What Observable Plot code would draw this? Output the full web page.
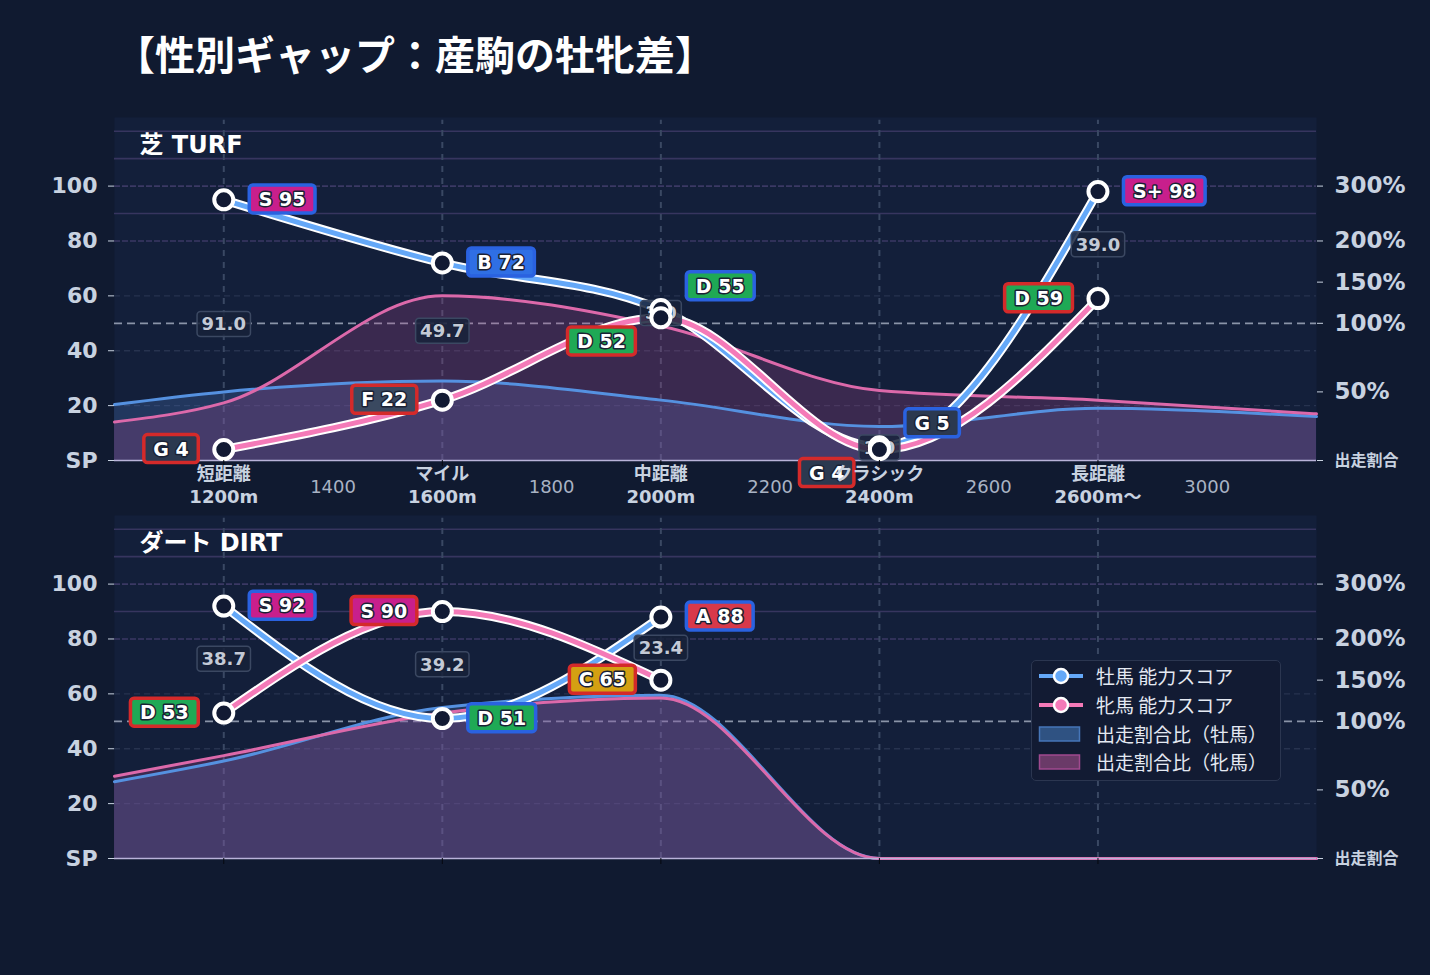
<!DOCTYPE html>
<html lang="ja">
<head>
<meta charset="utf-8">
<script src="https://cdn.jsdelivr.net/npm/d3@7"></script>
<script src="https://cdn.jsdelivr.net/npm/@observablehq/plot@0.6"></script>
<style>
  html, body { margin: 0; padding: 0; }
  body {
    width: 1430px; height: 975px; position: relative; overflow: hidden;
    background: #101a30;
    font-family: "DejaVu Sans", "Noto Sans CJK JP", sans-serif;
  }
  #title {
    position: absolute; left: 115px; top: 33px;
    font: bold 40px/40px "Noto Sans CJK JP", sans-serif;
    color: #ffffff; white-space: nowrap;
  }
  .panel { position: absolute; left: 0; width: 1430px; }
  #turf { top: 117px; }
  #dirt { top: 515px; }
  #legend {
    position: absolute; left: 1031px; top: 660px; width: 250px; height: 121px;
    box-sizing: border-box; background: #121b33;
    border: 1.5px solid #2b3650; border-radius: 5px;
  }
  #legend .item {
    position: absolute; left: 6px; height: 22px;
    display: flex; align-items: center;
    font: 19px/22px "Noto Sans CJK JP", sans-serif; color: #e4e9f2; white-space: nowrap;
  }
  #legend .item span { margin-left: 12px; }
</style>
</head>
<body>
<div id="title">【性別ギャップ：産駒の牡牝差】</div>
<div id="turf" class="panel"></div>
<div id="dirt" class="panel"></div>
<div id="legend">
  <div class="item" style="top:4px">
    <svg width="46" height="22"><line x1="1" y1="11" x2="45" y2="11" stroke="#64a8f8" stroke-width="4"/><circle cx="23" cy="11" r="7" fill="#64a8f8" stroke="#ffffff" stroke-width="2.5"/></svg>
    <span>牡馬 能力スコア</span>
  </div>
  <div class="item" style="top:33px">
    <svg width="46" height="22"><line x1="1" y1="11" x2="45" y2="11" stroke="#f47ab8" stroke-width="4"/><circle cx="23" cy="11" r="7" fill="#f47ab8" stroke="#ffffff" stroke-width="2.5"/></svg>
    <span>牝馬 能力スコア</span>
  </div>
  <div class="item" style="top:62px">
    <svg width="46" height="22"><rect x="1.5" y="4" width="40" height="14" fill="#2f5282" stroke="#4676b8" stroke-width="1.5"/></svg>
    <span>出走割合比（牡馬）</span>
  </div>
  <div class="item" style="top:90px">
    <svg width="46" height="22"><rect x="1.5" y="4" width="40" height="14" fill="#6a3a68" stroke="#a04a8f" stroke-width="1.5"/></svg>
    <span>出走割合比（牝馬）</span>
  </div>
</div>
<script>
// Distance categories (x positions in metres) and their axis labels
const distances = [1200, 1600, 2000, 2400, 2800];
const categoryNames = ["短距離", "マイル", "中距離", "クラシック", "長距離"];
const categoryMeters = ["1200m", "1600m", "2000m", "2400m", "2600m〜"];
const minorTicks = [1400, 1800, 2200, 2600, 3000];

// Turf: ability scores and ranks by sex
const turfMaleScore = [95, 72, 55, 5, 98];
const turfMaleRank = ["S", "B", "D", "G", "S+"];
const turfFemaleScore = [4, 22, 52, 4, 59];
const turfFemaleRank = ["G", "F", "D", "G", "D"];
const turfGap = [91.0, 49.7, 3.0, 1.0, 39.0];

// Dirt: ability scores and ranks by sex
const dirtDistances = [1200, 1600, 2000];
const dirtMaleScore = [92, 51, 88];
const dirtMaleRank = ["S", "D", "A"];
const dirtFemaleScore = [53, 90, 65];
const dirtFemaleRank = ["D", "S", "C"];
const dirtGap = [38.7, 39.2, 23.4];

// Entry-share curves (on the score scale) along the distance axis
const shareX = [1000, 1200, 1600, 2000, 2400, 2800, 3200];
const turfMaleShare = [20.4, 25, 29, 22, 12.4, 19, 16];
const turfFemaleShare = [14, 21, 60, 49, 25.5, 22, 17];
const dirtMaleShare = [28, 35.5, 55, 59.5, 0, 0, 0];
const dirtFemaleShare = [30, 37.5, 53, 58.5, 0, 0, 0];

// Axis ticks
const scoreTicks = [0, 20, 40, 60, 80, 100];
const ratioTicks = [100, 80, 65, 50, 25];
const ratioLabels = ["300%", "200%", "150%", "100%", "50%"];

const rankFill = {"S+": "#c81f8c", "S": "#c81f8c", "A": "#d8394a", "B": "#2f6fe4", "C": "#d4a012", "D": "#1fa955", "F": "#3a4960", "G": "#2b3950"};
const sexStroke = {male: "#2a62e0", female: "#d42a2a"};

const ratioMap = new Map(ratioTicks.map((t, i) => [t, ratioLabels[i]]));
const labelStyle = {fill: "#ffffff", stroke: "#1a2134", strokeWidth: 3, paintOrder: "stroke", strokeLinejoin: "round", fontSize: 19, fontWeight: "bold"};

function makePanel(cfg) {
  const pts = cfg.dist.map((d, i) => ({
    d,
    male: cfg.maleScore[i],
    female: cfg.femaleScore[i],
    maleLabel: `${cfg.maleRank[i]} ${cfg.maleScore[i]}`,
    femaleLabel: `${cfg.femaleRank[i]} ${cfg.femaleScore[i]}`,
    gap: cfg.gap[i].toFixed(1),
    mid: (cfg.maleScore[i] + cfg.femaleScore[i]) / 2,
    crowded: Math.abs(cfg.maleScore[i] - cfg.femaleScore[i]) < 10
  }));
  const share = shareX.map((d, i) => ({d, male: cfg.maleShare[i], female: cfg.femaleShare[i]}));

  const marks = [
    Plot.frame({fill: "#131f3a", stroke: "none"}),
    // horizontal guides
    Plot.ruleY([90, 110, 120], {stroke: "#37355f", strokeWidth: 1.6}),
    Plot.ruleY([80, 100], {stroke: "#3b3964", strokeWidth: 1.6, strokeDasharray: "6,2"}),
    Plot.ruleY([20, 40, 60], {stroke: "#27334f", strokeWidth: 1.3, strokeDasharray: "6,4"}),
    Plot.ruleY([50], {stroke: "#8a94a8", strokeWidth: 1.8, strokeDasharray: "8,5"}),
    Plot.ruleX(distances, {y1: 0, y2: 124, stroke: "#3a4863", strokeWidth: 2, strokeDasharray: "6,6"}),
    // entry share areas
    Plot.areaY(share, {x: "d", y: "male", curve: "monotone-x", fill: "#4a78c0", fillOpacity: 0.28}),
    Plot.areaY(share, {x: "d", y: "female", curve: "monotone-x", fill: "#b0468f", fillOpacity: 0.25}),
    Plot.lineY(share, {x: "d", y: "male", curve: "monotone-x", stroke: "#5591e0", strokeWidth: 3}),
    Plot.lineY(share, {x: "d", y: "female", curve: "monotone-x", stroke: "#dc69aa", strokeWidth: 3}),
    Plot.ruleY([0], {stroke: "#b9b3d9", strokeWidth: 1.5}),
    // score lines with white casing
    Plot.lineY(pts, {x: "d", y: "male", curve: "monotone-x", stroke: "#ffffff", strokeWidth: 9}),
    Plot.lineY(pts, {x: "d", y: "male", curve: "monotone-x", stroke: "#64a8f8", strokeWidth: 5}),
    Plot.lineY(pts, {x: "d", y: "female", curve: "monotone-x", stroke: "#ffffff", strokeWidth: 9}),
    Plot.lineY(pts, {x: "d", y: "female", curve: "monotone-x", stroke: "#f47ab8", strokeWidth: 5}),
    // male-female gap
    Plot.text(pts, {x: "d", y: "mid", text: "gap", className: "gap-lbl", fill: "#c3cad6", stroke: "#141d33", strokeWidth: 1.5, paintOrder: "stroke", fontSize: 18, fontWeight: "bold"}),
    // score points
    Plot.dot(pts, {x: "d", y: "male", r: 9.5, fill: "#121a33", stroke: "#ffffff", strokeWidth: 4}),
    Plot.dot(pts, {x: "d", y: "female", r: 9.5, fill: "#121a33", stroke: "#ffffff", strokeWidth: 4}),
    // rank labels
    Plot.text(pts, {filter: (d) => !d.crowded, x: "d", y: "male", text: "maleLabel", dx: 35, textAnchor: "start", className: "rank-male", ...labelStyle}),
    Plot.text(pts, {filter: (d) => d.crowded, x: "d", y: "male", text: "maleLabel", dx: 35, dy: -23, textAnchor: "start", className: "rank-male", ...labelStyle}),
    Plot.text(pts, {filter: (d) => !d.crowded, x: "d", y: "female", text: "femaleLabel", dx: -35, textAnchor: "end", className: "rank-female", ...labelStyle}),
    Plot.text(pts, {filter: (d) => d.crowded, x: "d", y: "female", text: "femaleLabel", dx: -35, dy: 24, textAnchor: "end", className: "rank-female", ...labelStyle}),
    // axes
    Plot.axisY(scoreTicks, {anchor: "left", label: null, tickSize: 6, tickPadding: 11, tickFormat: (d) => d === 0 ? "SP" : String(d), color: "#c8d2e0", fontSize: 22, fontWeight: "bold"}),
    Plot.axisY(ratioTicks, {anchor: "right", label: null, tickSize: 6, tickPadding: 12, tickFormat: (d) => ratioMap.get(d), color: "#c8d2e0", fontSize: 23, fontWeight: "bold"}),
    Plot.axisY([0], {anchor: "right", label: null, tickSize: 6, tickPadding: 12, tickFormat: () => "出走割合", color: "#c8d2e0", fontSize: 16, fontWeight: "bold"}),
    Plot.axisX(distances, {label: null, tickSize: 6, tickFormat: () => "", stroke: "#05080f"}),
    // panel title
    Plot.text([cfg.title], {x: 1000, y: 115, dx: 25, text: (d) => d, textAnchor: "start", fill: "#ffffff", fontSize: 24, fontWeight: "bold"})
  ];

  if (cfg.showX) {
    marks.push(
      Plot.text(minorTicks, {x: (d) => d, text: (d) => String(d), frameAnchor: "bottom", dy: 32, fill: "#a9b3c4", fontSize: 18}),
      Plot.text(distances, {x: (d) => d, text: (d, i) => categoryNames[i] + "\n" + categoryMeters[i], frameAnchor: "bottom", lineAnchor: "top", dy: 4, lineHeight: 1.25, fill: "#c8d2e0", fontSize: 18, fontWeight: "bold"})
    );
  }

  return Plot.plot({
    width: 1430,
    height: cfg.height,
    marginLeft: 114,
    marginRight: 114,
    marginTop: 0,
    marginBottom: cfg.marginBottom,
    style: {background: "transparent", fontFamily: "'DejaVu Sans', 'Noto Sans CJK JP', sans-serif", overflow: "visible"},
    x: {domain: [1000, 3200]},
    y: {domain: [0, 125]},
    marks
  });
}

// Rounded label boxes sized to each rendered text
function addBoxes(svg) {
  const NS = "http://www.w3.org/2000/svg";
  const put = (t, padX, padY, fill, stroke, sw, op) => {
    const b = t.getBBox();
    const r = document.createElementNS(NS, "rect");
    const tf = t.getAttribute("transform");
    if (tf) r.setAttribute("transform", tf);
    r.setAttribute("x", b.x - padX);
    r.setAttribute("y", b.y - padY);
    r.setAttribute("width", b.width + 2 * padX);
    r.setAttribute("height", b.height + 2 * padY);
    r.setAttribute("rx", 3.5);
    r.style.fill = fill;
    r.style.fillOpacity = op;
    r.style.stroke = stroke;
    r.style.strokeWidth = sw + "px";
    r.style.paintOrder = "normal";
    t.parentNode.insertBefore(r, t);
  };
  svg.querySelectorAll("g.gap-lbl text").forEach((t) => put(t, 4.5, 2, "#18223a", "#3b4862", 1.5, 0.85));
  ["male", "female"].forEach((sex) => {
    svg.querySelectorAll(`g.rank-${sex} text`).forEach((t) => {
      const grade = t.textContent.trim().split(" ")[0];
      put(t, 9.5, 3, rankFill[grade], sexStroke[sex], 3.5, 1);
    });
  });
}

const turf = makePanel({
  title: "芝 TURF", dist: distances,
  maleScore: turfMaleScore, maleRank: turfMaleRank,
  femaleScore: turfFemaleScore, femaleRank: turfFemaleRank,
  gap: turfGap, maleShare: turfMaleShare, femaleShare: turfFemaleShare,
  showX: true, height: 398, marginBottom: 55
});
const dirt = makePanel({
  title: "ダート DIRT", dist: dirtDistances,
  maleScore: dirtMaleScore, maleRank: dirtMaleRank,
  femaleScore: dirtFemaleScore, femaleRank: dirtFemaleRank,
  gap: dirtGap, maleShare: dirtMaleShare, femaleShare: dirtFemaleShare,
  showX: false, height: 363, marginBottom: 20
});
document.getElementById("turf").appendChild(turf);
document.getElementById("dirt").appendChild(dirt);
addBoxes(turf);
addBoxes(dirt);
</script>
</body>
</html>
